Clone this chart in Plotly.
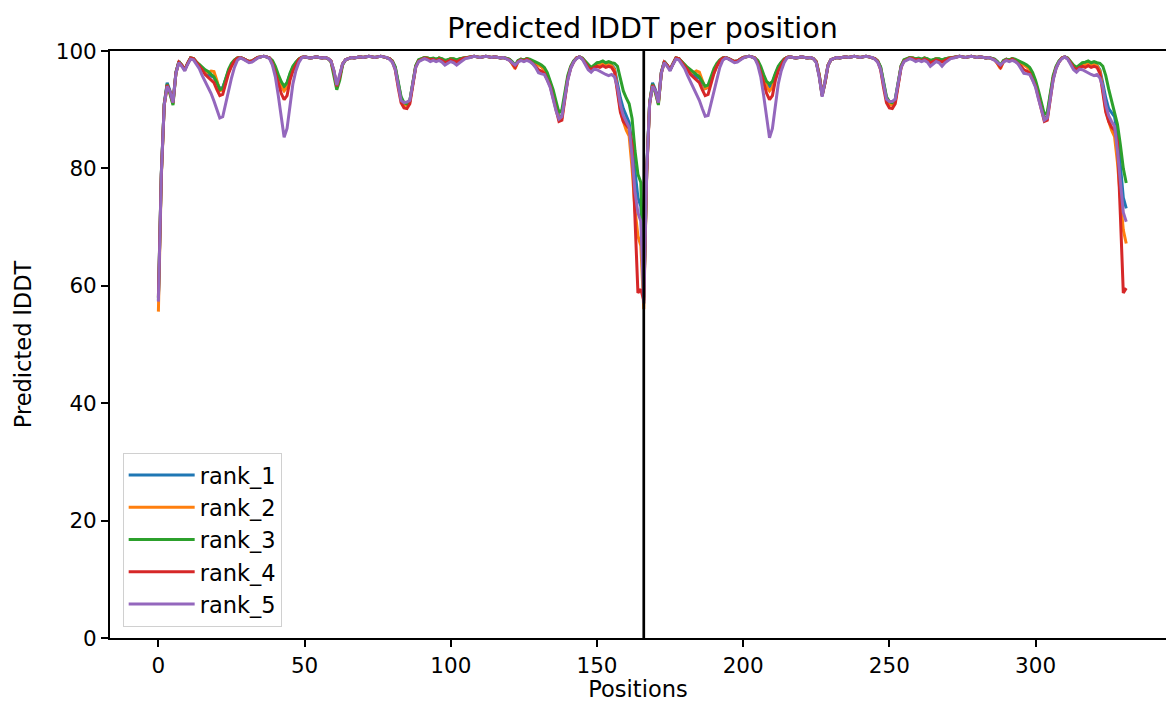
import plotly.graph_objects as go

# ---------------- data ----------------
rank_names = ["rank_1", "rank_2", "rank_3", "rank_4", "rank_5"]
rank_colors = ["#1f77b4", "#ff7f0e", "#2ca02c", "#d62728", "#9467bd"]
chain_lengths = [166, 166]

rank1_a = [57.5, 79.0, 91.0, 94.6, 93.2, 91.4, 96.4, 98.2, 97.6, 96.8,
           97.9, 98.8, 98.7, 98.1, 97.6, 96.9, 96.4, 96.0, 95.7, 95.5,
           94.6, 93.6, 93.8, 95.2, 96.6, 97.6, 98.4, 98.8, 98.9, 98.7,
           98.4, 98.2, 98.3, 98.6, 98.9, 99.0, 99.1, 99.0, 98.8, 98.2,
           97.0, 95.6, 94.4, 93.8, 94.6, 96.0, 97.2, 98.0, 98.6, 98.9,
           99.0, 98.9, 98.8, 98.9, 99.0, 98.9, 98.8, 98.9, 98.7, 98.3,
           96.6, 94.0, 95.6, 97.8, 98.5, 98.7, 98.9, 98.8, 98.9, 99.0,
           98.9, 99.0, 99.1, 99.0, 98.9, 99.0, 99.1, 99.0, 98.9, 98.7,
           98.3, 97.2, 94.6, 92.0, 91.0, 91.0, 91.5, 94.6, 97.4, 98.4,
           98.7, 98.9, 98.8, 98.6, 98.7, 98.5, 98.8, 98.6, 98.2, 98.5,
           98.7, 98.6, 98.3, 98.6, 98.8, 98.9, 98.9, 99.0, 99.1, 99.0,
           98.9, 99.0, 99.1, 99.0, 98.9, 99.0, 98.9, 98.8, 98.9, 98.7,
           98.6, 98.1, 97.4, 98.3, 98.6, 98.4, 98.7, 98.5, 98.3, 98.0,
           97.7, 97.4, 96.9, 95.9, 94.6, 92.8, 90.8, 88.8, 89.0, 92.4,
           95.4, 97.2, 98.2, 98.8, 99.0, 98.7, 98.0, 97.3, 96.9, 97.4,
           97.8, 97.6, 97.9, 97.5, 97.8, 97.6, 97.0, 94.5, 92.0, 90.2,
           89.0, 87.8, 84.0, 79.0, 75.0, 73.5]
rank1_b = [57.0, 79.5, 91.2, 94.6, 93.4, 91.4, 96.4, 98.2, 97.6, 96.8,
           97.9, 98.8, 98.7, 98.1, 97.6, 96.9, 96.4, 96.0, 95.6, 95.4,
           94.6, 93.6, 93.8, 95.2, 96.6, 97.6, 98.4, 98.8, 98.9, 98.7,
           98.4, 98.2, 98.3, 98.6, 98.9, 99.0, 99.1, 99.0, 98.8, 98.2,
           97.0, 95.6, 94.4, 93.9, 94.6, 96.0, 97.2, 98.0, 98.6, 98.9,
           99.0, 98.9, 98.8, 98.9, 99.0, 98.9, 98.8, 98.9, 98.7, 98.2,
           96.0, 92.6, 94.8, 97.6, 98.5, 98.7, 98.9, 98.8, 98.9, 99.0,
           98.9, 99.0, 99.1, 99.0, 98.9, 99.0, 99.1, 99.0, 98.9, 98.7,
           98.3, 97.2, 94.6, 92.0, 91.2, 91.0, 91.6, 94.6, 97.4, 98.4,
           98.7, 98.9, 98.8, 98.6, 98.7, 98.5, 98.8, 98.6, 98.2, 98.5,
           98.7, 98.6, 98.3, 98.6, 98.8, 98.9, 98.9, 99.0, 99.1, 99.0,
           98.9, 99.0, 99.1, 99.0, 98.9, 99.0, 98.9, 98.8, 98.9, 98.7,
           98.6, 98.1, 97.4, 98.3, 98.6, 98.4, 98.7, 98.5, 98.3, 98.0,
           97.7, 97.4, 96.9, 95.9, 94.6, 92.8, 90.8, 88.6, 88.8, 92.4,
           95.4, 97.2, 98.2, 98.8, 99.0, 98.7, 98.0, 97.3, 96.9, 97.4,
           97.8, 97.6, 97.9, 97.5, 97.8, 97.6, 96.8, 94.5, 92.0, 90.2,
           89.5, 88.8, 86.0, 80.0, 75.0, 73.2]

rank2_a = [55.6, 78.5, 90.8, 93.8, 92.8, 91.0, 96.2, 98.1, 97.6, 96.8,
           97.9, 98.8, 98.7, 98.1, 97.6, 97.0, 96.6, 96.3, 96.6, 96.5,
           95.0, 93.2, 93.4, 95.0, 96.5, 97.5, 98.3, 98.8, 98.9, 98.7,
           98.4, 98.2, 98.3, 98.6, 98.9, 99.0, 99.1, 99.0, 98.8, 98.1,
           96.8, 95.2, 94.0, 93.2, 93.8, 95.6, 97.0, 97.9, 98.6, 98.9,
           99.0, 98.9, 98.8, 98.9, 99.0, 98.9, 98.8, 98.9, 98.7, 98.3,
           96.6, 94.0, 95.6, 97.8, 98.5, 98.7, 98.9, 98.8, 98.9, 99.0,
           98.9, 99.0, 99.1, 99.0, 98.9, 99.0, 99.1, 99.0, 98.9, 98.7,
           98.3, 97.1, 94.4, 91.8, 90.7, 90.8, 91.4, 94.5, 97.4, 98.4,
           98.7, 98.9, 98.8, 98.6, 98.7, 98.5, 98.8, 98.6, 98.2, 98.5,
           98.7, 98.6, 98.3, 98.6, 98.8, 98.9, 98.9, 99.0, 99.1, 99.0,
           98.9, 99.0, 99.1, 99.0, 98.9, 99.0, 98.9, 98.8, 98.9, 98.7,
           98.5, 97.8, 97.0, 98.2, 98.6, 98.4, 98.7, 98.5, 98.3, 98.0,
           97.6, 97.3, 96.8, 95.8, 94.4, 92.6, 90.6, 88.4, 88.6, 92.2,
           95.3, 97.2, 98.2, 98.8, 99.0, 98.7, 98.0, 97.3, 96.9, 97.4,
           97.8, 97.6, 97.8, 97.5, 97.7, 97.5, 96.8, 93.5, 90.0, 88.0,
           86.5, 85.5, 80.0, 73.0, 68.5, 66.8]
rank2_b = [56.0, 79.0, 91.0, 94.2, 93.0, 91.0, 96.2, 98.1, 97.6, 96.8,
           97.9, 98.8, 98.7, 98.1, 97.6, 97.0, 96.6, 96.3, 96.6, 96.4,
           95.0, 93.6, 93.8, 95.0, 96.5, 97.5, 98.3, 98.8, 98.9, 98.7,
           98.4, 98.2, 98.3, 98.6, 98.9, 99.0, 99.1, 99.0, 98.8, 98.1,
           96.8, 95.2, 94.0, 93.2, 93.8, 95.6, 97.0, 97.9, 98.6, 98.9,
           99.0, 98.9, 98.8, 98.9, 99.0, 98.9, 98.8, 98.9, 98.7, 98.2,
           96.0, 92.6, 94.8, 97.6, 98.5, 98.7, 98.9, 98.8, 98.9, 99.0,
           98.9, 99.0, 99.1, 99.0, 98.9, 99.0, 99.1, 99.0, 98.9, 98.7,
           98.3, 97.1, 94.4, 91.8, 90.8, 90.8, 91.4, 94.5, 97.4, 98.4,
           98.7, 98.9, 98.8, 98.6, 98.7, 98.5, 98.8, 98.6, 98.2, 98.5,
           98.7, 98.6, 98.3, 98.6, 98.8, 98.9, 98.9, 99.0, 99.1, 99.0,
           98.9, 99.0, 99.1, 99.0, 98.9, 99.0, 98.9, 98.8, 98.9, 98.7,
           98.5, 97.8, 97.0, 98.2, 98.6, 98.4, 98.7, 98.5, 98.3, 98.0,
           97.6, 97.3, 96.8, 95.8, 94.4, 92.6, 90.6, 88.4, 88.6, 92.2,
           95.3, 97.2, 98.2, 98.8, 99.0, 98.7, 98.0, 97.3, 96.9, 97.4,
           97.8, 97.6, 97.8, 97.5, 97.7, 97.5, 96.6, 93.5, 90.0, 88.0,
           86.5, 85.4, 81.0, 75.0, 69.5, 67.2]

rank3_a = [58.0, 79.2, 91.0, 94.4, 92.6, 90.8, 96.3, 98.2, 97.6, 96.8,
           97.9, 98.8, 98.7, 98.1, 97.7, 97.2, 96.8, 96.5, 96.0, 95.6,
           94.6, 93.4, 93.6, 95.4, 96.9, 97.9, 98.5, 98.8, 98.9, 98.7,
           98.4, 98.2, 98.3, 98.6, 98.9, 99.0, 99.1, 99.0, 98.8, 98.4,
           97.4, 96.0, 94.8, 94.0, 94.6, 96.2, 97.4, 98.1, 98.6, 98.9,
           99.0, 98.9, 98.8, 98.9, 99.0, 98.9, 98.8, 98.9, 98.7, 98.2,
           96.0, 93.4, 95.0, 97.6, 98.5, 98.7, 98.9, 98.8, 98.9, 99.0,
           98.9, 99.0, 99.1, 99.0, 98.9, 99.0, 99.1, 99.0, 98.9, 98.7,
           98.3, 97.3, 94.8, 92.2, 91.2, 91.0, 91.6, 94.8, 97.5, 98.5,
           98.7, 98.9, 98.8, 98.7, 98.8, 98.6, 98.8, 98.7, 98.4, 98.6,
           98.7, 98.7, 98.5, 98.7, 98.8, 98.9, 98.9, 99.0, 99.1, 99.0,
           98.9, 99.0, 99.1, 99.0, 98.9, 99.0, 98.9, 98.8, 98.9, 98.7,
           98.6, 98.2, 97.6, 98.4, 98.6, 98.5, 98.7, 98.6, 98.4, 98.2,
           97.9, 97.6, 97.2, 96.3, 95.0, 93.4, 91.4, 89.5, 90.0, 93.0,
           95.8, 97.4, 98.3, 98.8, 99.0, 98.8, 98.2, 97.6, 97.2, 97.6,
           98.0, 98.1, 98.3, 98.0, 98.2, 98.0, 97.9, 97.4, 95.5, 93.2,
           92.0, 91.0, 88.5, 83.0, 79.0, 77.6]
rank3_b = [58.0, 79.5, 91.2, 94.4, 92.8, 90.8, 96.3, 98.2, 97.6, 96.8,
           97.9, 98.8, 98.7, 98.1, 97.7, 97.2, 96.8, 96.5, 96.0, 95.6,
           94.8, 94.0, 94.2, 95.6, 97.0, 97.9, 98.5, 98.8, 98.9, 98.7,
           98.4, 98.2, 98.3, 98.6, 98.9, 99.0, 99.1, 99.0, 98.8, 98.4,
           97.4, 96.0, 94.8, 94.4, 94.8, 96.2, 97.4, 98.1, 98.6, 98.9,
           99.0, 98.9, 98.8, 98.9, 99.0, 98.9, 98.8, 98.9, 98.7, 98.1,
           95.8, 92.4, 94.6, 97.5, 98.5, 98.7, 98.9, 98.8, 98.9, 99.0,
           98.9, 99.0, 99.1, 99.0, 98.9, 99.0, 99.1, 99.0, 98.9, 98.7,
           98.3, 97.3, 94.8, 92.2, 91.4, 91.2, 91.8, 94.8, 97.5, 98.5,
           98.7, 98.9, 98.8, 98.7, 98.8, 98.6, 98.8, 98.7, 98.4, 98.6,
           98.7, 98.7, 98.5, 98.7, 98.8, 98.9, 98.9, 99.0, 99.1, 99.0,
           98.9, 99.0, 99.1, 99.0, 98.9, 99.0, 98.9, 98.8, 98.9, 98.7,
           98.6, 98.2, 97.6, 98.4, 98.6, 98.5, 98.7, 98.6, 98.4, 98.2,
           97.9, 97.6, 97.2, 96.3, 95.0, 93.2, 91.2, 89.2, 89.6, 92.8,
           95.8, 97.4, 98.3, 98.8, 99.0, 98.8, 98.2, 97.6, 97.2, 97.6,
           98.0, 98.1, 98.3, 98.0, 98.2, 98.0, 97.9, 97.4, 95.8, 93.5,
           91.5, 90.0, 87.5, 84.0, 80.0, 77.5]

rank4_a = [58.0, 79.0, 90.8, 94.2, 93.0, 91.2, 96.3, 98.1, 97.6, 96.8,
           97.9, 98.8, 98.7, 98.1, 97.5, 96.8, 96.0, 95.5, 95.0, 94.6,
           93.4, 92.4, 92.6, 94.4, 96.2, 97.4, 98.3, 98.8, 98.9, 98.7,
           98.4, 98.2, 98.3, 98.6, 98.9, 99.0, 99.1, 99.0, 98.8, 97.9,
           96.4, 94.6, 92.8, 91.7, 92.4, 95.0, 96.6, 97.6, 98.5, 98.9,
           99.0, 98.9, 98.8, 98.9, 99.0, 98.9, 98.8, 98.9, 98.7, 98.3,
           96.5, 94.0, 95.6, 97.8, 98.5, 98.7, 98.9, 98.8, 98.9, 99.0,
           98.9, 99.0, 99.1, 99.0, 98.9, 99.0, 99.1, 99.0, 98.9, 98.7,
           98.2, 96.8, 93.8, 91.2, 90.3, 90.2, 91.0, 94.2, 97.2, 98.3,
           98.6, 98.8, 98.7, 98.5, 98.6, 98.3, 98.6, 98.4, 98.0, 98.3,
           98.5, 98.3, 98.1, 98.4, 98.7, 98.8, 98.9, 99.0, 99.1, 99.0,
           98.9, 99.0, 99.1, 99.0, 98.9, 99.0, 98.9, 98.8, 98.9, 98.7,
           98.5, 97.9, 97.2, 98.2, 98.5, 98.3, 98.6, 98.3, 97.9, 97.4,
           96.8, 96.6, 96.2, 95.2, 94.0, 92.0, 90.0, 88.0, 88.2, 92.0,
           95.2, 97.1, 98.1, 98.8, 99.0, 98.7, 97.9, 97.2, 96.8, 97.2,
           97.4, 97.2, 97.5, 97.2, 97.4, 97.2, 96.4, 93.2, 89.6, 88.0,
           87.3, 86.8, 84.0, 70.0, 58.8, 59.4]
rank4_b = [57.5, 79.2, 91.0, 94.2, 93.2, 91.2, 96.3, 98.1, 97.6, 96.8,
           97.9, 98.8, 98.7, 98.1, 97.5, 96.8, 96.0, 95.5, 95.0, 94.6,
           93.4, 92.4, 92.6, 94.4, 96.2, 97.4, 98.3, 98.8, 98.9, 98.7,
           98.4, 98.2, 98.3, 98.6, 98.9, 99.0, 99.1, 99.0, 98.8, 97.9,
           96.4, 94.6, 92.8, 91.7, 92.4, 95.0, 96.6, 97.6, 98.5, 98.9,
           99.0, 98.9, 98.8, 98.9, 99.0, 98.9, 98.8, 98.9, 98.7, 98.1,
           95.8, 92.4, 94.6, 97.5, 98.5, 98.7, 98.9, 98.8, 98.9, 99.0,
           98.9, 99.0, 99.1, 99.0, 98.9, 99.0, 99.1, 99.0, 98.9, 98.7,
           98.2, 96.8, 93.8, 91.2, 90.3, 90.2, 91.0, 94.2, 97.2, 98.3,
           98.6, 98.8, 98.7, 98.5, 98.6, 98.3, 98.6, 98.4, 98.0, 98.3,
           98.5, 98.3, 98.1, 98.4, 98.7, 98.8, 98.9, 99.0, 99.1, 99.0,
           98.9, 99.0, 99.1, 99.0, 98.9, 99.0, 98.9, 98.8, 98.9, 98.7,
           98.5, 97.9, 97.2, 98.2, 98.5, 98.3, 98.6, 98.3, 97.9, 97.4,
           96.8, 96.6, 96.2, 95.2, 94.0, 92.0, 90.0, 88.0, 88.2, 92.0,
           95.2, 97.1, 98.1, 98.8, 99.0, 98.7, 97.9, 97.2, 96.8, 97.2,
           97.4, 97.2, 97.5, 97.2, 97.4, 97.2, 96.2, 93.2, 89.6, 88.0,
           87.0, 86.5, 84.5, 72.0, 58.8, 59.6]

rank5_a = [57.3, 79.0, 90.8, 94.0, 93.0, 91.2, 96.2, 98.0, 97.4, 96.6,
           97.7, 98.6, 98.5, 97.8, 97.0, 95.8, 94.8, 93.8, 92.8, 91.5,
           90.0, 88.6, 88.8, 90.8, 93.2, 95.4, 97.2, 98.4, 98.8, 98.6,
           98.3, 98.0, 98.1, 98.5, 98.8, 99.0, 99.1, 99.0, 98.7, 97.6,
           95.6, 92.4, 88.6, 85.3, 86.8, 91.0, 94.4, 96.6, 98.0, 98.8,
           99.0, 98.9, 98.8, 98.9, 99.0, 98.9, 98.8, 98.9, 98.7, 98.3,
           96.8, 94.2, 95.8, 97.8, 98.5, 98.7, 98.9, 98.8, 98.9, 99.0,
           98.9, 99.0, 99.1, 99.0, 98.9, 99.0, 99.1, 99.0, 98.9, 98.6,
           98.1, 96.9, 94.2, 91.6, 91.2, 91.3, 91.6, 94.4, 97.2, 98.2,
           98.5, 98.7, 98.5, 98.2, 98.4, 98.2, 98.4, 98.1, 97.6, 97.9,
           98.2, 98.0, 97.6, 98.0, 98.4, 98.7, 98.8, 99.0, 99.1, 99.0,
           98.9, 99.0, 99.1, 99.0, 98.9, 99.0, 98.9, 98.8, 98.9, 98.7,
           98.4, 98.0, 97.6, 98.1, 98.4, 98.2, 98.4, 98.2, 97.8, 97.2,
           96.3, 96.1, 96.0, 95.0, 93.8, 91.8, 89.8, 88.4, 88.8, 92.0,
           95.0, 97.0, 98.1, 98.7, 99.0, 98.6, 97.6, 96.8, 96.4, 96.9,
           96.8, 96.5, 96.3, 96.0, 95.8, 96.0, 95.6, 93.8, 90.8, 89.0,
           88.0, 87.0, 82.0, 76.0, 72.4, 71.0]
rank5_b = [57.0, 79.5, 91.0, 94.0, 93.2, 91.2, 96.2, 98.0, 97.4, 96.6,
           97.7, 98.6, 98.5, 97.8, 97.0, 95.8, 94.8, 93.8, 92.8, 91.6,
           90.2, 88.9, 89.0, 91.0, 93.4, 95.5, 97.2, 98.4, 98.8, 98.6,
           98.3, 98.0, 98.1, 98.5, 98.8, 99.0, 99.1, 99.0, 98.7, 97.6,
           95.6, 92.4, 88.6, 85.2, 86.8, 91.0, 94.4, 96.6, 98.0, 98.8,
           99.0, 98.9, 98.8, 98.9, 99.0, 98.9, 98.8, 98.9, 98.7, 98.0,
           95.6, 92.2, 94.6, 97.5, 98.5, 98.7, 98.9, 98.8, 98.9, 99.0,
           98.9, 99.0, 99.1, 99.0, 98.9, 99.0, 99.1, 99.0, 98.9, 98.6,
           98.1, 96.9, 94.2, 91.8, 91.4, 91.4, 91.8, 94.4, 97.2, 98.2,
           98.5, 98.7, 98.5, 98.2, 98.4, 98.2, 98.4, 98.1, 97.4, 97.8,
           98.2, 98.0, 97.4, 98.0, 98.4, 98.7, 98.8, 99.0, 99.1, 99.0,
           98.9, 99.0, 99.1, 99.0, 98.9, 99.0, 98.9, 98.8, 98.9, 98.7,
           98.4, 98.0, 97.6, 98.1, 98.4, 98.2, 98.4, 98.2, 97.8, 97.0,
           96.2, 96.1, 96.0, 95.0, 93.8, 91.8, 89.8, 88.2, 88.6, 92.0,
           95.0, 97.0, 98.1, 98.7, 99.0, 98.6, 97.6, 96.8, 96.4, 96.9,
           96.8, 96.5, 96.3, 96.0, 95.8, 96.0, 95.4, 93.8, 90.8, 89.0,
           88.0, 87.2, 83.0, 77.0, 72.5, 70.9]

rank_values = [rank1_a + rank1_b, rank2_a + rank2_b, rank3_a + rank3_b,
               rank4_a + rank4_b, rank5_a + rank5_b]
positions = list(range(sum(chain_lengths)))

# ---------------- figure ----------------
FONT = "DejaVu Sans"
BASE = 22.5
TICK = 21.5
fig = go.Figure()
for name, color, vals in zip(rank_names, rank_colors, rank_values):
    fig.add_trace(go.Scatter(x=positions, y=vals, mode="lines", name=name,
                             legendgroup=name,
                             line=dict(color=color, width=3)))

boundary = 0
for L in chain_lengths[:-1]:
    boundary += L
    fig.add_vline(x=boundary, line=dict(color="black", width=2.7), layer="above")

fig.update_layout(
    width=1166, height=702,
    margin=dict(l=110, r=0, t=51, b=64),
    paper_bgcolor="white", plot_bgcolor="white",
    font=dict(family=FONT, size=BASE, color="black"),
    title=dict(text="Predicted lDDT per position", font=dict(size=28.5, color="black"),
               x=642.5 / 1166, xref="container", xanchor="center",
               y=1 - 28 / 702, yref="container", yanchor="middle"),
    legend=dict(x=0.012, y=0.019, xanchor="left", yanchor="bottom",
                bgcolor="rgba(255,255,255,0.8)", bordercolor="#d0d0d0", borderwidth=1,
                font=dict(size=BASE, color="black"), tracegroupgap=2,
                itemwidth=66, traceorder="normal"),
    showlegend=True,
)
fig.update_xaxes(range=[-16.55, 344.6], showgrid=False, zeroline=False,
                 showline=True, linecolor="black", linewidth=1.8, mirror=True,
                 ticks="outside", ticklen=7, tickwidth=1.8, tickcolor="black",
                 tickvals=[0, 50, 100, 150, 200, 250, 300],
                 tickfont=dict(size=TICK),
                 title=dict(text="Positions", standoff=7, font=dict(size=BASE)))
fig.update_yaxes(range=[0, 100], showgrid=False, zeroline=False,
                 showline=True, linecolor="black", linewidth=1.8, mirror=False,
                 ticks="outside", ticklen=7, tickwidth=1.8, tickcolor="black",
                 tickvals=[0, 20, 40, 60, 80, 100],
                 tickfont=dict(size=TICK),
                 title=dict(text="Predicted lDDT", standoff=18, font=dict(size=BASE)))

fig.write_html("out.html")
